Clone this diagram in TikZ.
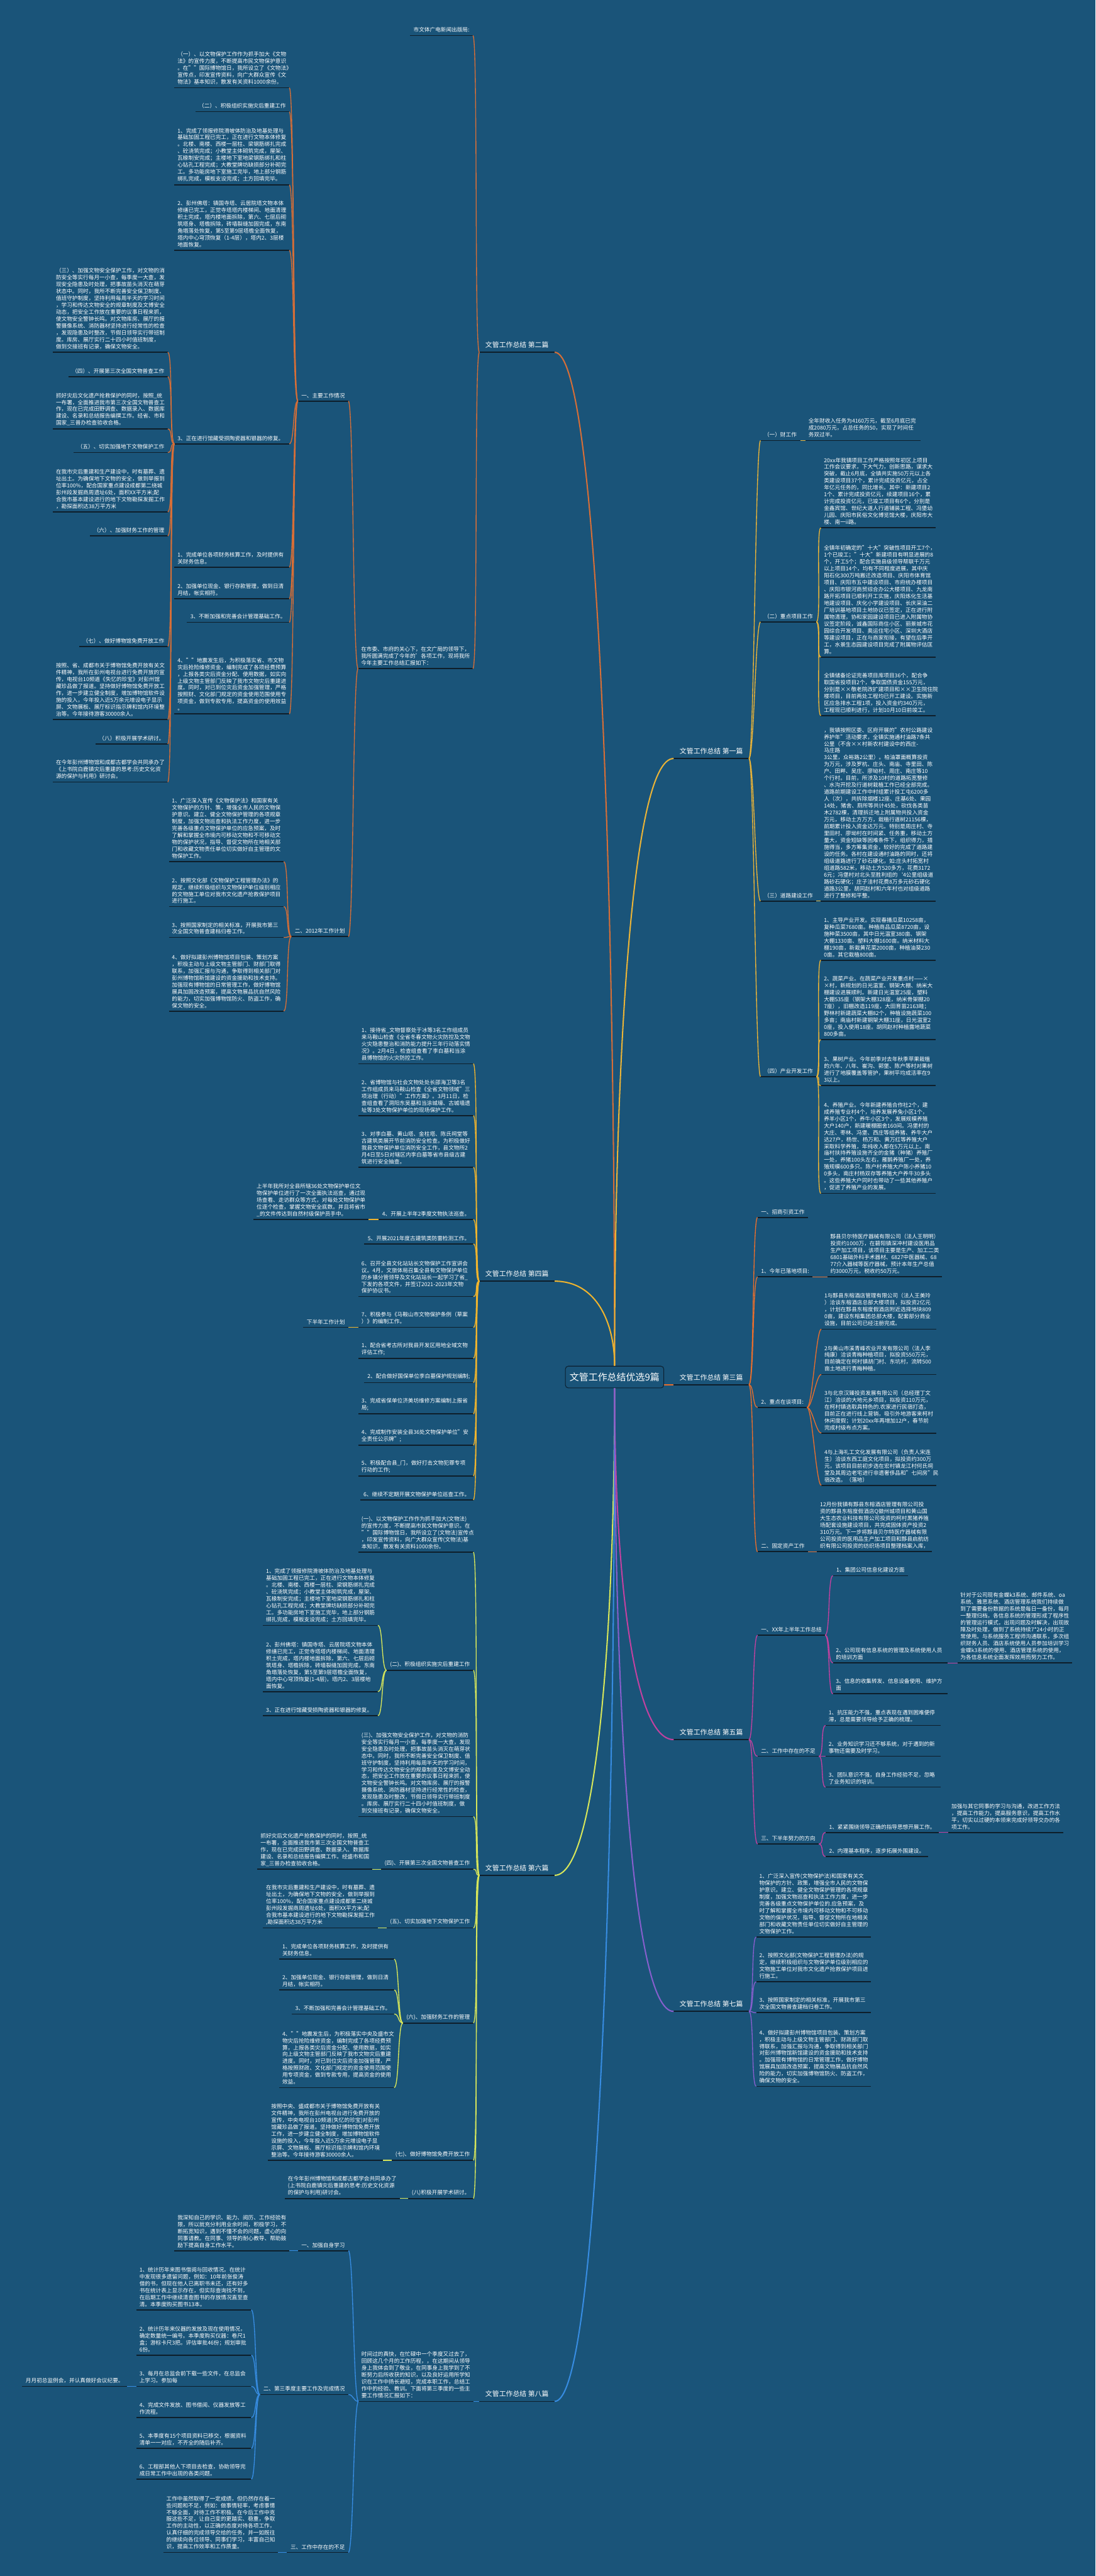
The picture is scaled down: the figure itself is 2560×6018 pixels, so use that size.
\documentclass[tikz,border=0pt]{standalone}
\usepackage{fontspec}
\setmainfont{Noto Sans CJK SC}
\definecolor{bgblue}{RGB}{26,84,121}
\definecolor{ulink}{RGB}{14,30,42}
\definecolor{rootedge}{RGB}{12,32,48}
\definecolor{orgII}{RGB}{214,110,55}
\definecolor{ylwIV}{RGB}{240,180,45}
\definecolor{grnVI}{RGB}{215,230,90}
\definecolor{bluVIII}{RGB}{55,140,225}
\definecolor{gldI}{RGB}{235,180,55}
\definecolor{orgIII}{RGB}{232,110,45}
\definecolor{magV}{RGB}{195,65,160}
\definecolor{purVII}{RGB}{135,95,205}
\begin{document}
\begin{tikzpicture}[x=1pt, y=-1pt,
  uline/.style={append after command={(\tikzlastnode.south west) edge[draw=ulink, line width=2.5pt] (\tikzlastnode.south east)}},
  txt/.style={text=white, font=\fontsize{12.7}{16.1}\selectfont, text width=254pt, align=left, inner xsep=7pt, inner ysep=7pt, uline},
  hd/.style={text=white, font=\fontsize{12.7}{16.1}\selectfont, inner xsep=8pt, inner ysep=7pt, uline},
  br/.style={text=white, font=\fontsize{16}{19}\selectfont, inner xsep=14pt, inner ysep=10pt, uline},
  root/.style={draw=rootedge, line width=1.5pt, rounded corners=7pt, fill=bgblue, text=white, font=\fontsize{22}{26}\selectfont, minimum width=230pt, minimum height=51pt},
  lkl/.style={line width=2pt, to path={.. controls +(-12,0) and +(12,0) .. (\tikztotarget)}},
  lkr/.style={line width=2pt, to path={.. controls +(12,0) and +(-12,0) .. (\tikztotarget)}},
  mainln/.style={line width=3pt}]
\useasboundingbox (0,0) rectangle (2560,6018);
\fill[bgblue] (0,0) rectangle (2560,6018);

\node[root] (root) at (1436,3217) {文管工作总结优选9篇};

\node[br, anchor=south east] (b2) at (1296,823) {文管工作总结 第二篇};
\node[br, anchor=south east] (b4) at (1296,2993) {文管工作总结 第四篇};
\node[br, anchor=south east] (b6) at (1296,4381) {文管工作总结 第六篇};
\node[br, anchor=south east] (b8) at (1296,5610) {文管工作总结 第八篇};
\node[br, anchor=south west] (b1) at (1574,1772) {文管工作总结 第一篇};
\node[br, anchor=south west] (b3) at (1574,3235) {文管工作总结 第三篇};
\node[br, anchor=south west] (b5) at (1574,4064) {文管工作总结 第五篇};
\node[br, anchor=south west] (b7) at (1574,4699) {文管工作总结 第七篇};

\node[hd, anchor=south east] (b2a) at (1105,83) {市文体广电新闻出版局:};
\node[txt, anchor=south east] (b2b) at (1105,1562) {在市委、市府的关心下，在文广局的领导下，\\我所圆满完成了今年的'各项工作，现将我所\\今年主要工作总结汇报如下：};
\node[hd, anchor=south east] (b2c) at (814,937) {一、主要工作情况};
\node[hd, anchor=south east] (b2d) at (814,2188) {二、2012年工作计划};

\node[txt, anchor=south east] (c1) at (676,205) {（一）、以文物保护工作作为抓手加大《文物\\法》的宣传力度，不断提高市民文物保护意识\\。在""国际博物馆日，我所设立了《文物法》\\宣传点，印发宣传资料，向广大群众宣传《文\\物法》基本知识，散发有关资料1000余份。};
\node[hd, anchor=south east] (c2) at (676,261) {（二）、积极组织实施灾后重建工作};
\node[txt, anchor=south east] (c3) at (676,432) {1、完成了领报修院滑坡体防治及地基处理与\\基础加固工程已完工，正在进行文物本体修复\\。北楼、南楼、西楼一层柱、梁钢筋绑扎完成\\、砼浇筑完成；小教堂主体砌筑完成，屋架、\\瓦椽制安完成；主楼地下室地梁钢筋绑扎和柱\\心钻孔工程完成；大教堂牌坊缺损部分补砌完\\工。多功能房地下室施工完毕，地上部分钢筋\\绑扎完成，模板支设完成；土方回填完毕。};
\node[txt, anchor=south east] (c4) at (676,585) {2、彭州佛塔：镇国寺塔、云居院塔文物本体\\修缮已完工，正觉寺塔塔内楼梯间、地面清理\\积土完成，塔内楼地面拆除，第六、七层后砌\\筑塔身、塔檐拆除，砖墙裂缝加固完成，东南\\角塌落处恢复，第5至第9层塔檐全面恢复，\\塔内中心穹顶恢复（1-4层），塔内2、3层楼\\地面恢复。};
\node[txt, anchor=south east] (c5) at (676,1037) {3、正在进行馆藏受损陶瓷器和银器的修复。};
\node[txt, anchor=south east] (c6) at (676,1325) {1、完成单位各项财务核算工作，及时提供有\\关财务信息。};
\node[txt, anchor=south east] (c7) at (676,1399) {2、加强单位现金、银行存款管理，做到日清\\月结，帐实相符。};
\node[hd, anchor=south east] (c8) at (676,1454) {3、不断加强和完善会计管理基础工作。};
\node[txt, anchor=south east] (c9) at (676,1668) {4、""地震发生后，为积极落实省、市文物\\灾后抢险维修资金，编制完成了各项经费预算\\，上报各类灾后资金分配、使用数据，如实向\\上级文物主管部门反映了我市文物灾后重建进\\度。同时，对已到位灾后资金加强管理，严格\\按照财、文化部门规定的资金使用范围使用专\\项资金，做到专款专用，提高资金的使用效益\\。};

\node[txt, anchor=south east] (d1) at (392,823) {（三）、加强文物安全保护工作，对文物的消\\防安全等实行每月一小查，每季度一大查，发\\现安全隐患及时处理，把事故苗头消灭在萌芽\\状态中。同时，我所不断完善安全保卫制度、\\值班守护制度，坚持利用每周半天的学习时间\\，学习和传达文物安全的规章制度及文博安全\\动态，把安全工作放在重要的议事日程来抓，\\使文物安全警钟长鸣。对文物库房、展厅的报\\警摄像系统、消防器材坚持进行经常性的检查\\，发现隐患及时整改，节假日领导实行带班制\\度。库房、展厅实行二十四小时值班制度，\\做到交接班有记录，确保文物安全。};
\node[hd, anchor=south east] (d2) at (392,880) {（四）、开展第三次全国文物普查工作};
\node[txt, anchor=south east] (d3) at (392,1002) {抓好灾后文化遗产抢救保护的同时，按照\_统\\一布署，全面推进我市第三次全国文物普查工\\作，现在已完成田野调查、数据录入、数据库\\建设、名录和总结报告编撰工作。经省、市和\\国家\_三普办检查验收合格。};
\node[hd, anchor=south east] (d4) at (392,1057) {（五）、切实加强地下文物保护工作};
\node[txt, anchor=south east] (d5) at (392,1196) {在我市灾后重建和生产建设中，时有墓葬、遗\\址出土。为确保地下文物的安全，做到举报到\\位率100\%，配合国家重点建设成都第二绕城\\彭州段发掘商周遗址6处，面积XX平方米;配\\合我市基本建设进行的地下文物勘探发掘工作\\，勘探面积达38万平方米};
\node[hd, anchor=south east] (d6) at (392,1252) {（六）、加强财务工作的管理};
\node[hd, anchor=south east] (d7) at (392,1510) {（七）、做好博物馆免费开放工作};
\node[txt, anchor=south east] (d8) at (392,1681) {按照、省、成都市关于博物馆免费开放有关文\\件精神，我所在彭州电视台进行免费开放的宣\\传，电视台10频道《失忆的珍宝》对彭州馆\\藏珍品做了报道。坚持做好博物馆免费开放工\\作，进一步建立健全制度，增加博物馆软件设\\施的投入，今年投入近5万余元增设电子显示\\屏、文物展板、展厅标识指示牌和馆内环境整\\治等。今年接待游客30000余人。};
\node[hd, anchor=south east] (d9) at (392,1738) {（八）积极开展学术研讨。};
\node[txt, anchor=south east] (d10) at (392,1827) {在今年彭州博物馆和成都古都学会共同承办了\\《上书院白鹿镇灾后重建的思考:历史文化资\\源的保护与利用》研讨会。};

\node[txt, anchor=south east] (e1) at (663,2013) {1、广泛深入宣传《文物保护法》和国家有关\\文物保护的方针、策，增强全市人民的文物保\\护意识。建立、健全文物保护管理的各项规章\\制度，加强文物巡查和执法工作力度，进一步\\完善各级重点文物保护单位的应急预案，及时\\了解和掌握全市境内可移动文物和不可移动文\\物的保护状况，指导、督促文物所在地相关部\\门和收藏文物责任单位切实做好自主管理的文\\物保护工作。};
\node[txt, anchor=south east] (e2) at (663,2118) {2、按照文化部《文物保护工程管理办法》的\\规定，继续积极组织与文物保护单位级别相应\\的文物施工单位对我市文化遗产抢救保护项目\\进行施工。};
\node[txt, anchor=south east] (e3) at (663,2190) {3、按照国家制定的相关标准，开展我市第三\\次全国文物普查建档归卷工作。};
\node[txt, anchor=south east] (e4) at (663,2362) {4、做好拟建彭州博物馆项目包装、策划方案\\，积极主动与上级文物主管部门、财部门取得\\联系，加强汇报与沟通，争取得到相关部门对\\彭州博物馆新馆建设的资金援助和技术支持。\\加强现有博物馆的日常管理工作，做好博物馆\\展具加固改造预案，提高文物展品抗自然风险\\的能力，切实加强博物馆防火、防盗工作，确\\保文物的安全。};

\node[txt, anchor=south east] (f1) at (1106,2485) {1、接待省\_文物督察处于冰等3名工作组成员\\来马鞍山检查《全省冬春文物火灾防控及文物\\火灾隐患整治和消防能力提升三年行动落实情\\况》。2月4日，检查组查看了李白墓和当涂\\县博物馆的火灾防控工作。};
\node[txt, anchor=south east] (f2) at (1106,2606) {2、省博物馆与社会文物处处长邵海卫等3名\\工作组成员来马鞍山检查《全省文物领域"三\\项治理（行动）"工作方案》。3月11日，检\\查组查看了洞阳东吴墓和当涂城壕、古城墙遗\\址等3处文物保护单位的现场保护工作。};
\node[txt, anchor=south east] (f3) at (1106,2727) {3、对李白墓、黄山塔、金柱塔、陈氏祠堂等\\古建筑类展开节前消防安全检查。为积极做好\\我县文物保护单位消防安全工作，县文物所2\\月4日至5日对辖区内李白墓等省市县级古建\\筑进行安全抽查。};
\node[hd, anchor=south east] (f4) at (1106,2849) {4、开展上半年2季度文物执法巡查。};
\node[txt, anchor=south east] (f4a) at (861,2849) {上半年我所对全县所辖36处文物保护单位文\\物保护单位进行了一次全面执法巡查，通过现\\场查看、走访群众等方式，对每处文物保护单\\位逐个检查，掌握文物安全底数。并且将省市\\\_的文件传达到自然村级保护员手中。};
\node[hd, anchor=south east] (f5) at (1106,2906) {5、开展2021年度古建筑类防雷检测工作。};
\node[txt, anchor=south east] (f6) at (1106,3029) {6、召开全县文化站站长文物保护工作宣讲会\\议。4月，文旅体局召集全县有文物保护单位\\的乡镇分管领导及文化站站长一起学习了省\_\\下发的各项文件，并签订2021-2023年文物\\保护协议书。};
\node[txt, anchor=south east] (f7) at (1106,3101) {7、积极参与《马鞍山市文物保护条例（草案\\）》的编制工作。};
\node[hd, anchor=south east] (f7a) at (814,3101) {下半年工作计划};
\node[txt, anchor=south east] (f8) at (1106,3173) {1、配合省考古所对我县开发区用地全域文物\\评估工作;};
\node[hd, anchor=south east] (f9) at (1106,3230) {2、配合做好国保单位李白墓保护规划编制;};
\node[txt, anchor=south east] (f10) at (1106,3303) {3、完成省保单位济美坊维修方案编制上报省\\局;};
\node[txt, anchor=south east] (f11) at (1106,3376) {4、完成制作安装全县36处文物保护单位"安\\全责任公示牌";};
\node[txt, anchor=south east] (f12) at (1106,3448) {5、积极配合县\_门，做好打击文物犯罪专项\\行动的工作;};
\node[hd, anchor=south east] (f13) at (1106,3504) {6、继续不定期开展文物保护单位巡查工作。};

\node[txt, anchor=south east] (g1) at (1106,3626) {(一)、以文物保护工作作为抓手加大(文物法)\\的宣传力度，不断提高市民文物保护意识。在\\""国际博物馆日，我所设立了(文物法)宣传点\\，印发宣传资料，向广大群众宣传(文物法)基\\本知识，散发有关资料1000余份。};
\node[hd, anchor=south east] (g2) at (1106,3902) {(二)、积极组织实施灾后重建工作};
\node[txt, anchor=south east] (g2a) at (883,3797) {1、完成了领报修院滑坡体防治及地基处理与\\基础加固工程已完工，正在进行文物本体修复\\。北楼、南楼、西楼一层柱、梁钢筋绑扎完成\\、砼浇筑完成；小教堂主体砌筑完成，屋架、\\瓦椽制安完成；主楼地下室地梁钢筋绑扎和柱\\心钻孔工程完成；大教堂牌坊缺损部分补砌完\\工。多功能房地下室施工完毕，地上部分钢筋\\绑扎完成，模板支设完成；土方回填完毕。};
\node[txt, anchor=south east] (g2b) at (883,3952) {2、彭州佛塔：镇国寺塔、云居院塔文物本体\\修缮已完工，正觉寺塔塔内楼梯间、地面清理\\积土完成，塔内楼地面拆除，第六、七层后砌\\筑塔身、塔檐拆除，砖墙裂缝加固完成，东南\\角塌落处恢复，第5至第9层塔檐全面恢复，\\塔内中心穹顶恢复(1-4层)，塔内2、3层楼地\\面恢复。};
\node[txt, anchor=south east] (g2c) at (883,4008) {3、正在进行馆藏受损陶瓷器和银器的修复。};
\node[txt, anchor=south east] (g3) at (1106,4244) {(三)、加强文物安全保护工作，对文物的消防\\安全等实行每月一小查，每季度一大查，发现\\安全隐患及时处理，把事故苗头消灭在萌芽状\\态中。同时，我所不断完善安全保卫制度、值\\班守护制度，坚持利用每周半天的学习时间，\\学习和传达文物安全的规章制度及文博安全动\\态，把安全工作放在重要的议事日程来抓，使\\文物安全警钟长鸣。对文物库房、展厅的报警\\摄像系统、消防器材坚持进行经常性的检查，\\发现隐患及时整改，节假日领导实行带班制度\\。库房、展厅实行二十四小时值班制度，做\\到交接班有记录，确保文物安全。};
\node[hd, anchor=south east] (g4) at (1106,4367) {(四)、开展第三次全国文物普查工作};
\node[txt, anchor=south east] (g4a) at (870,4367) {抓好灾后文化遗产抢救保护的同时，按照\_统\\一布署，全面推进我市第三次全国文物普查工\\作，现在已完成田野调查、数据录入、数据库\\建设、名录和总结报告编撰工作。经盛市和国\\家\_三普办检查验收合格。};
\node[hd, anchor=south east] (g5) at (1106,4504) {(五)、切实加强地下文物保护工作};
\node[txt, anchor=south east] (g5a) at (883,4504) {在我市灾后重建和生产建设中，时有墓葬、遗\\址出土，为确保地下文物的安全，做到举报到\\位率100\%，配合国家重点建设成都第二绕城\\彭州段发掘商周遗址6处，面积XX平方米;配\\合我市基本建设进行的地下文物勘探发掘工作\\,勘探面积达38万平方米};
\node[hd, anchor=south east] (g6) at (1106,4726) {(六)、加强财务工作的管理};
\node[txt, anchor=south east] (g6a) at (921,4577) {1、完成单位各项财务核算工作，及时提供有\\关财务信息。};
\node[txt, anchor=south east] (g6b) at (921,4649) {2、加强单位现金、银行存款管理，做到日清\\月结，帐实相符。};
\node[hd, anchor=south east] (g6c) at (921,4705) {3、不断加强和完善会计管理基础工作。};
\node[txt, anchor=south east] (g6d) at (921,4877) {4、""地震发生后，为积极落实中央及盛市文\\物灾后抢险维修资金，编制完成了各项经费预\\算，上报各类灾后资金分配、使用数据，如实\\向上级文物主管部门反映了我市文物灾后重建\\进度。同时，对已到位灾后资金加强管理，严\\格按照财政、文化部门规定的资金使用范围使\\用专项资金，做到专款专用，提高资金的使用\\效益。};
\node[hd, anchor=south east] (g7) at (1106,5047) {(七)、做好博物馆免费开放工作};
\node[txt, anchor=south east] (g7a) at (895,5047) {按照中央、盛成都市关于博物馆免费开放有关\\文件精神，我所在彭州电视台进行免费开放的\\宣传，中央电视台10频道(失忆的珍宝)对彭州\\馆藏珍品做了报道。坚持做好博物馆免费开放\\工作，进一步建立健全制度，增加博物馆软件\\设施的投入，今年投入近5万余元增设电子显\\示屏、文物展板、展厅标识指示牌和馆内环境\\整治等。今年接待游客30000余人。};
\node[hd, anchor=south east] (g8) at (1106,5136) {(八)积极开展学术研讨。};
\node[txt, anchor=south east] (g8a) at (934,5136) {在今年彭州博物馆和成都古都学会共同承办了\\(上书院白鹿镇灾后重建的思考:历史文化资源\\的保护与利用)研讨会。};

\node[txt, anchor=south east] (h1) at (1106,5610) {时间过的真快，在忙碌中一个季度又过去了，\\回顾这几个月的工作历程，，在这期间从领导\\身上我体会到了敬业，在同事身上我学到了不\\断努力后所收获的知识，以及良好运用所学知\\识在工作中扬长避短，完成本职工作，总结工\\作中的经验、教训。下面将第三季度的一些主\\要工作情况汇报如下：};
\node[hd, anchor=south east] (h1a) at (814,5258) {一、加强自身学习};
\node[txt, anchor=south east] (h1a1) at (676,5258) {我深知自己的学识、能力、阅历、工作经验有\\限，所以就充分利用业余时间，积极学习，不\\断拓宽知识，遇到不懂不会的问题，虚心的向\\同事请教。在同事、领导的耐心教导、帮助鼓\\励下提高自身工作水平。};
\node[hd, anchor=south east] (h1b) at (814,5594) {二、第三季度主要工作及完成情况};
\node[txt, anchor=south east] (i1) at (587,5396) {1、统计历年来图书借阅与回收情况。在统计\\中发现很多遗留问题，例如：10年前张俊涛\\借的书，但现在他人已离职书未还，还有好多\\书在统计表上显示存在，但实际查询找不到，\\在后期工作中继续清查图书的存放情况直至查\\清。本季度购买图书13本。};
\node[txt, anchor=south east] (i2) at (587,5502) {2、统计历年来仪器的发放及现在使用情况，\\确定数量统一编号。本季度购买仪器：卷尺1\\盒；游标卡尺3把。评估审批46份；规划审批\\6份。};
\node[txt, anchor=south east] (i3) at (587,5575) {3、每月在总监会前下载一些文件，在总监会\\上学习。参加每};
\node[hd, anchor=south east] (i3a) at (297,5575) {月月初总监例会，并认真做好会议纪要。};
\node[txt, anchor=south east] (i4) at (587,5648) {4、完成文件发放、图书借阅、仪器发放等工\\作流程。};
\node[txt, anchor=south east] (i5) at (587,5720) {5、本季度有15个项目资料已移交，根据资料\\清单一一对应，不齐全的随后补齐。};
\node[txt, anchor=south east] (i6) at (587,5792) {6、工程部其他人下项目去检查，协助领导完\\成日常工作中出现的各类问题。};
\node[hd, anchor=south east] (h1c) at (814,5963) {三、工作中存在的不足};
\node[txt, anchor=south east] (h1c1) at (650,5963) {工作中虽然取得了一定成绩，但仍然存在着一\\些问题和不足，例如：做事情轻率，考虑事情\\不够全面，对待工作不积极。在今后工作中克\\服这些不足，让自己变的更踏实、稳重，争取\\工作的主动性，以正确的态度对待各项工作，\\认真仔细的完成领导交给的任务，并一如既往\\的继续向各位领导、同事们学习，丰富自己知\\识，提高工作效率和工作质量。};

\node[hd, anchor=south west] (j1) at (1777,1029) {（一）财工作};
\node[txt, anchor=south west] (j1a) at (1882,1029) {全年财收入任务为4160万元，截至6月底已完\\成2080万元，占总任务的50，实现了时间任\\务双过半。};
\node[hd, anchor=south west] (j2) at (1777,1453) {（二）重点项目工作};
\node[txt, anchor=south west] (j2a) at (1918,1233) {20xx年我镇项目工作严格按照年初区上项目\\工作会议要求，下大气力，创新思路，谋求大\\突破，截止6月底，全镇共实施50万元以上各\\类建设项目37个，累计完成投资亿元，占全\\年亿元任务的，同比增长。其中：新建项目2\\1个、累计完成投资亿元，续建项目16个，累\\计完成投资亿元，已竣工项目有6个，分别是\\金鑫宾馆、世纪大道人行道铺装工程、冯堡幼\\儿园、庆阳市民俗文化博览馆大楼，庆阳市大\\楼、南一ii路。};
\node[txt, anchor=south west] (j2b) at (1918,1535) {全镇年初确定的"十大"突破性项目开工7个，\\1个已竣工；"十大"新建项目有明显进展的8\\个，开工5个；配合实施县级领导帮联千万元\\以上项目14个，均有不同程度进展，其中庆\\阳石化300万吨搬迁改造项目、庆阳市体育馆\\项目、庆阳市五中建设项目、市府统办楼项目\\、庆阳市银河商贸综合办公大楼项目、九龙南\\路开拓项目已顺利开工实施，庆阳炼化生活基\\地建设项目、庆化小学建设项目、长庆采油二\\厂培训基地项目土地协议已签定，正在进行附\\属物清理，协和家园建设项目已进入附属物协\\议签定阶段，诚鑫国际商住小区、丽景城市花\\园综合开发项目、奥运住宅小区、深圳大酒店\\等建设项目，正在与商家衔接，有望在后季开\\工，水景生态园建设项目完成了附属物评估匡\\算。};
\node[txt, anchor=south west] (j2c) at (1918,1672) {全镇储备论证完善项目库项目36个，配合争\\取国省投项目2个，争取国债资金155万元，\\分别是××敬老院改扩建项目和××卫生院住院\\楼项目，目前两处工程均已开工建设。实施新\\区应急排水工程1项，投入资金约340万元，\\工程现已顺利进行，计划10月10日前竣工。};
\node[hd, anchor=south west] (j3) at (1777,2105) {（三）道路建设工作};
\node[txt, anchor=south west] (j3a) at (1918,2105) {，我镇按照区委、区府开展的"农村公路建设\\养护年"活动要求，全镇实施通村油路7条共\\公里（不含××村新农村建设中的西庄-马庄路\\3公里，众裕路2公里）。柏油罩面概算投资\\为万元，涉及罗杭、庄头、南庙、寺里田、陈\\户、田畔、吴庄、廖坳村、周庄、南庄等10\\个行村。目前，所涉及10村的道路拓宽整修\\、水沟开挖及行道树栽植工作已经全部完成。\\道路前期建设工作中村组累计投工屯6200多\\人（次），共拆除烟楼12座、庄基6处、果园\\14处，猪舍、厕所等共计45处，砍伐各类苗\\木2782棵，清理拆迁地上附属物共投入资金\\万元，移动土方万方，栽植行道树21156棵，\\前期累计投入资金达万元。特别是周庄村、寺\\里田村、廖坳村在时间紧、任务重，移动土方\\量大，资金短缺等困难条件下，组织得力，措\\施得当，多方筹集资金，较好的完成了道路建\\设的任务。各村在建设通村油路的同时，还将\\组级道路进行了砂石硬化，如:庄头村拓宽村\\组道路582米，移动土方520多方，花费3172\\6元；冯堡村对北头至胜利组的`4公里组级道\\路砂石硬化；庄子洼村花费8万多元砂石硬化\\道路3公里，胡同赵村和六年村也对组级道路\\进行了整修和平整。};
\node[hd, anchor=south west] (j4) at (1777,2515) {（四）产业开发工作};
\node[txt, anchor=south west] (j4a) at (1918,2243) {1、主导产业开发。实现春播瓜菜10258亩，\\复种瓜菜7680亩。种植商品瓜菜8720亩，设\\施种菜3500亩，其中日光温室380亩、钢架\\大棚1330亩、塑料大棚1600亩。纳米材料大\\棚190亩，新栽黄花菜2000亩，种植油葵230\\0亩。其它栽植800亩。};
\node[txt, anchor=south west] (j4b) at (1918,2429) {2、蔬菜产业。在蔬菜产业开发重点村——×\\×村，新规划的日光温室、钢架大棚、纳米大\\棚建设进展顺利。新建日光温室25座，塑料\\大棚535座（钢架大棚328座，纳米骨架棚20\\7座），旧棚改造119座，大田育苗2163畦；\\野林村新建蔬菜大棚82个，种植设施蔬菜100\\多亩；南庙村新建钢架大棚31座，日光温室2\\0座，投入使用18座。胡同赵村种植露地蔬菜\\800多亩。};
\node[txt, anchor=south west] (j4c) at (1918,2536) {3、果树产业。今年前季对去年秋季苹果栽植\\的六年、八年、崔沟、郭堡、陈户等村对果树\\进行了地膜覆盖等管护，果树平均成活率在9\\3以上。};
\node[txt, anchor=south west] (j4d) at (1918,2788) {4、养殖产业。今年新建养殖合作社2个，建\\成养殖专业村4个，培养发展养兔小区1个，\\养羊小区1个，养牛小区3个，发展规模养殖\\大户140户，新建暖棚圈舍160间。冯堡村的\\大庄、枣林、冯堡、西庄等组养猪、养牛大户\\达27户，杨世、杨万和、黄万红等养殖大户\\采取科学养殖，年纯收入都在5万元以上。南\\庙村扶持养殖设施齐全的金猪（种猪）养殖厂\\一处，养猪100头左右，雁鹅养殖厂一处，养\\殖规模600多只。陈户村养殖大户陈小养猪10\\0多头，南庄村杨双存等养殖大户养牛30多头\\。这些养殖大户同时也带动了一些其他养殖户\\，促进了养殖产业的发展。};

\node[hd, anchor=south west] (k1) at (1770,2844) {一、招商引资工作};
\node[hd, anchor=south west] (k2) at (1770,2983) {1、今年已落地项目:};
\node[txt, anchor=south west] (k2a) at (1933,2983) {黟县贝尔特医疗器械有限公司（法人王明明）\\投资约1000万，在碧阳镇深冲村建设医用品\\生产加工项目，该项目主要是生产、加工二类\\6801基础外科手术器材、6827中医器械、68\\77介入器械等医疗器械，预计本年生产总值\\约3000万元，税收约50万元。};
\node[hd, anchor=south west] (k3) at (1770,3288) {2、重点在谈项目:};
\node[txt, anchor=south west] (k3a) at (1919,3105) {1与黟县东榕酒店管理有限公司（法人王美玲\\）洽谈东榕酒店总部大楼项目，拟投资2亿元\\，计划在黟县东榕度假酒店附近选择地块809\\0亩，建设东榕集团总部大楼，配套部分商业\\设施，目前公司已经注册完成。};
\node[txt, anchor=south west] (k3b) at (1919,3211) {2与黄山市溪青峰农业开发有限公司（法人李\\纯康）洽谈青梅种植项目，拟投资550万元，\\目前确定在柯村镇胡门村、东坑村，流转500\\亩土地进行青梅种植。};
\node[txt, anchor=south west] (k3c) at (1919,3348) {3与北京汉臻投资发展有限公司（总经理丁文\\江）洽谈的大地元乡项目，拟投资110万元，\\在柯村镇选取具特色的.农家进行民宿打造，\\目前正在进行线上营销，吸引外地游客来柯村\\休闲度假；计划20xx年再增加12户，春节前\\完成村级布点方案。};
\node[txt, anchor=south west] (k3d) at (1919,3470) {4与上海礼工文化发展有限公司（负责人宋连\\生）洽谈东西工庭文化项目，拟投资约300万\\元，该项目目前初步选在宏村镇龙江村何氏祠\\堂及其周边老宅进行非遗奢侈品和"七间房"民\\宿改造。（落地）};
\node[hd, anchor=south west] (k4) at (1770,3625) {二、固定资产工作};
\node[txt, anchor=south west] (k4a) at (1909,3625) {12月份我镇有黟县东榕酒店管理有限公司投\\资的黟县东榕度假酒店Q徽州城项目和黄山国\\大生态农业科技有限公司投资的柯村黑猪养殖\\场配套设施建设项目，共完成固体资产投资2\\310万元。下一步将黟县贝尔特医疗器械有限\\公司投资的医用品生产加工项目和黟县启航纺\\织有限公司投资的纺织场项目整理档案入库，};

\node[hd, anchor=south west] (l1) at (1770,3820) {一、XX年上半年工作总结};
\node[hd, anchor=south west] (l1a) at (1946,3681) {1、集团公司信息化建设方面};
\node[txt, anchor=south west] (l1b) at (1946,3885) {2、公司现有信息系统的管理及系统使用人员\\的培训方面};
\node[txt, anchor=south west] (l1b1) at (2237,3885) {针对于公司现有金蝶k3系统、邮件系统、oa\\系统、雅思系统、酒店管理系统我们持续做\\到了需要备份数据的系统是每日一备份，每月\\一整理归档，各信息系统的管理形成了程序性\\的管理运行模式，出现问题及时解决，出现故\\障及时处理，做到了系统持续7*24小时的正\\常使用。与系统服务工程师沟通联系，多次组\\织财务人员、酒店系统使用人员参加培训学习\\金蝶k3系统的使用、酒店管理系统的使用，\\为各信息系统全面发挥效用而努力工作。};
\node[txt, anchor=south west] (l1c) at (1946,3957) {3、信息的收集转发、信息设备使用、维护方\\面};
\node[hd, anchor=south west] (l2) at (1770,4103) {二、工作中存在的不足};
\node[txt, anchor=south west] (l2a) at (1929,4031) {1、抗压能力不强，重点表现在遇到困难便停\\滞，总是需要领导给予正确的梳理。};
\node[txt, anchor=south west] (l2b) at (1929,4103) {2、业务知识学习还不够系统，对于遇到的新\\事物还需要及时学习。};
\node[txt, anchor=south west] (l2c) at (1929,4175) {3、团队意识不强，自身工作经验不足，忽略\\了业务知识的培训。};
\node[hd, anchor=south west] (l3) at (1770,4308) {三、下半年努力的方向};
\node[hd, anchor=south west] (l3a) at (1929,4281) {1、紧紧围绕领导正确的指导思想开展工作。};
\node[txt, anchor=south west] (l3a1) at (2216,4281) {加强与其它同事的学习与沟通，改进工作方法\\，提高工作能力，提高服务意识，提高工作水\\平，切实以过硬的本领来完成好领导交办的各\\项工作。};
\node[hd, anchor=south west] (l3b) at (1929,4337) {2、内理基本程序，逐步拓展外围建设。};

\node[txt, anchor=south west] (m1) at (1767,4525) {1、广泛深入宣传(文物保护法)和国家有关文\\物保护的方针、政策，增强全市人民的文物保\\护意识。建立、健全文物保护管理的各项规章\\制度，加强文物巡查和执法工作力度，进一步\\完善各级重点文物保护单位的.应急预案，及\\时了解和掌握全市境内可移动文物和不可移动\\文物的保护状况，指导、督促文物所在地相关\\部门和收藏文物责任单位切实做好自主管理的\\文物保护工作。};
\node[txt, anchor=south west] (m2) at (1767,4630) {2、按照文化部(文物保护工程管理办法)的规\\定，继续积极组织与文物保护单位级别相应的\\文物施工单位对我市文化遗产抢救保护项目进\\行施工。};
\node[txt, anchor=south west] (m3) at (1767,4702) {3、按照国家制定的相关标准，开展我市第三\\次全国文物普查建档归卷工作。};
\node[txt, anchor=south west] (m4) at (1767,4874) {4、做好拟建彭州博物馆项目包装、策划方案\\，积极主动与上级文物主管部门、财政部门取\\得联系，加强汇报与沟通，争取得到相关部门\\对彭州博物馆新馆建设的资金援助和技术支持\\。加强现有博物馆的日常管理工作，做好博物\\馆展具加固改造预案，提高文物展品抗自然风\\险的能力，切实加强博物馆防火、防盗工作，\\确保文物的安全。};

\draw[mainln, orgII] (b2.south east) .. controls +(98,0) and +(0,-1185) .. (root.north);
\draw[mainln, ylwIV] (b4.south east) .. controls +(98,0) and +(0,-100) .. (root.north);
\draw[mainln, gldI] (b1.south west) .. controls +(-98,0) and +(0,-710) .. (root.north);
\draw[mainln, grnVI] (b6.south east) .. controls +(98,0) and +(0,569) .. (root.south);
\draw[mainln, bluVIII] (b8.south east) .. controls +(98,0) and +(0,1184) .. (root.south);
\draw[mainln, magV] (b5.south west) .. controls +(-98,0) and +(0,411) .. (root.south);
\draw[mainln, purVII] (b7.south west) .. controls +(-98,0) and +(0,728) .. (root.south);
\draw[mainln, orgIII] (root.east |- b3.south west) -- (b3.south west);

\draw[lkl, orgII] (b2.south west) to (b2a.south east);
\draw[lkl, orgII] (b2.south west) to (b2b.south east);
\draw[lkl, orgII] (b2b.south west) to (b2c.south east);
\draw[lkl, orgII] (b2b.south west) to (b2d.south east);
\draw[lkl, orgII] (b2c.south west) to (c1.south east);
\draw[lkl, orgII] (b2c.south west) to (c2.south east);
\draw[lkl, orgII] (b2c.south west) to (c3.south east);
\draw[lkl, orgII] (b2c.south west) to (c4.south east);
\draw[lkl, orgII] (b2c.south west) to (c5.south east);
\draw[lkl, orgII] (b2c.south west) to (c6.south east);
\draw[lkl, orgII] (b2c.south west) to (c7.south east);
\draw[lkl, orgII] (b2c.south west) to (c8.south east);
\draw[lkl, orgII] (b2c.south west) to (c9.south east);
\draw[lkl, orgII] (c5.south west) to (d1.south east);
\draw[lkl, orgII] (c5.south west) to (d2.south east);
\draw[lkl, orgII] (c5.south west) to (d3.south east);
\draw[lkl, orgII] (c5.south west) to (d4.south east);
\draw[lkl, orgII] (c5.south west) to (d5.south east);
\draw[lkl, orgII] (c5.south west) to (d6.south east);
\draw[lkl, orgII] (c5.south west) to (d7.south east);
\draw[lkl, orgII] (c5.south west) to (d8.south east);
\draw[lkl, orgII] (c5.south west) to (d9.south east);
\draw[lkl, orgII] (c5.south west) to (d10.south east);
\draw[lkl, orgII] (b2d.south west) to (e1.south east);
\draw[lkl, orgII] (b2d.south west) to (e2.south east);
\draw[lkl, orgII] (b2d.south west) to (e3.south east);
\draw[lkl, orgII] (b2d.south west) to (e4.south east);

\draw[lkl, ylwIV] (b4.south west) to (f1.south east);
\draw[lkl, ylwIV] (b4.south west) to (f2.south east);
\draw[lkl, ylwIV] (b4.south west) to (f3.south east);
\draw[lkl, ylwIV] (b4.south west) to (f4.south east);
\draw[lkl, ylwIV] (b4.south west) to (f5.south east);
\draw[lkl, ylwIV] (b4.south west) to (f6.south east);
\draw[lkl, ylwIV] (b4.south west) to (f7.south east);
\draw[lkl, ylwIV] (b4.south west) to (f8.south east);
\draw[lkl, ylwIV] (b4.south west) to (f9.south east);
\draw[lkl, ylwIV] (b4.south west) to (f10.south east);
\draw[lkl, ylwIV] (b4.south west) to (f11.south east);
\draw[lkl, ylwIV] (b4.south west) to (f12.south east);
\draw[lkl, ylwIV] (b4.south west) to (f13.south east);
\draw[lkl, ylwIV] (f4.south west) to (f4a.south east);
\draw[lkl, ylwIV] (f7.south west) to (f7a.south east);

\draw[lkl, grnVI] (b6.south west) to (g1.south east);
\draw[lkl, grnVI] (b6.south west) to (g2.south east);
\draw[lkl, grnVI] (b6.south west) to (g3.south east);
\draw[lkl, grnVI] (b6.south west) to (g4.south east);
\draw[lkl, grnVI] (b6.south west) to (g5.south east);
\draw[lkl, grnVI] (b6.south west) to (g6.south east);
\draw[lkl, grnVI] (b6.south west) to (g7.south east);
\draw[lkl, grnVI] (b6.south west) to (g8.south east);
\draw[lkl, grnVI] (g2.south west) to (g2a.south east);
\draw[lkl, grnVI] (g2.south west) to (g2b.south east);
\draw[lkl, grnVI] (g2.south west) to (g2c.south east);
\draw[lkl, grnVI] (g4.south west) to (g4a.south east);
\draw[lkl, grnVI] (g5.south west) to (g5a.south east);
\draw[lkl, grnVI] (g6.south west) to (g6a.south east);
\draw[lkl, grnVI] (g6.south west) to (g6b.south east);
\draw[lkl, grnVI] (g6.south west) to (g6c.south east);
\draw[lkl, grnVI] (g6.south west) to (g6d.south east);
\draw[lkl, grnVI] (g7.south west) to (g7a.south east);
\draw[lkl, grnVI] (g8.south west) to (g8a.south east);

\draw[lkl, bluVIII] (b8.south west) to (h1.south east);
\draw[lkl, bluVIII] (h1.south west) to (h1a.south east);
\draw[lkl, bluVIII] (h1.south west) to (h1b.south east);
\draw[lkl, bluVIII] (h1.south west) to (h1c.south east);
\draw[lkl, bluVIII] (h1a.south west) to (h1a1.south east);
\draw[lkl, bluVIII] (h1b.south west) to (i1.south east);
\draw[lkl, bluVIII] (h1b.south west) to (i2.south east);
\draw[lkl, bluVIII] (h1b.south west) to (i3.south east);
\draw[lkl, bluVIII] (h1b.south west) to (i4.south east);
\draw[lkl, bluVIII] (h1b.south west) to (i5.south east);
\draw[lkl, bluVIII] (h1b.south west) to (i6.south east);
\draw[lkl, bluVIII] (i3.south west) to (i3a.south east);
\draw[lkl, bluVIII] (h1c.south west) to (h1c1.south east);

\draw[lkr, gldI] (b1.south east) to (j1.south west);
\draw[lkr, gldI] (b1.south east) to (j2.south west);
\draw[lkr, gldI] (b1.south east) to (j3.south west);
\draw[lkr, gldI] (b1.south east) to (j4.south west);
\draw[lkr, gldI] (j1.south east) to (j1a.south west);
\draw[lkr, gldI] (j2.south east) to (j2a.south west);
\draw[lkr, gldI] (j2.south east) to (j2b.south west);
\draw[lkr, gldI] (j2.south east) to (j2c.south west);
\draw[lkr, gldI] (j3.south east) to (j3a.south west);
\draw[lkr, gldI] (j4.south east) to (j4a.south west);
\draw[lkr, gldI] (j4.south east) to (j4b.south west);
\draw[lkr, gldI] (j4.south east) to (j4c.south west);
\draw[lkr, gldI] (j4.south east) to (j4d.south west);

\draw[lkr, orgIII] (b3.south east) to (k1.south west);
\draw[lkr, orgIII] (b3.south east) to (k2.south west);
\draw[lkr, orgIII] (b3.south east) to (k3.south west);
\draw[lkr, orgIII] (b3.south east) to (k4.south west);
\draw[lkr, orgIII] (k2.south east) to (k2a.south west);
\draw[lkr, orgIII] (k3.south east) to (k3a.south west);
\draw[lkr, orgIII] (k3.south east) to (k3b.south west);
\draw[lkr, orgIII] (k3.south east) to (k3c.south west);
\draw[lkr, orgIII] (k3.south east) to (k3d.south west);
\draw[lkr, orgIII] (k4.south east) to (k4a.south west);

\draw[lkr, magV] (b5.south east) to (l1.south west);
\draw[lkr, magV] (b5.south east) to (l2.south west);
\draw[lkr, magV] (b5.south east) to (l3.south west);
\draw[lkr, magV] (l1.south east) to (l1a.south west);
\draw[lkr, magV] (l1.south east) to (l1b.south west);
\draw[lkr, magV] (l1.south east) to (l1c.south west);
\draw[lkr, magV] (l1b.south east) to (l1b1.south west);
\draw[lkr, magV] (l2.south east) to (l2a.south west);
\draw[lkr, magV] (l2.south east) to (l2b.south west);
\draw[lkr, magV] (l2.south east) to (l2c.south west);
\draw[lkr, magV] (l3.south east) to (l3a.south west);
\draw[lkr, magV] (l3.south east) to (l3b.south west);
\draw[lkr, magV] (l3a.south east) to (l3a1.south west);

\draw[lkr, purVII] (b7.south east) to (m1.south west);
\draw[lkr, purVII] (b7.south east) to (m2.south west);
\draw[lkr, purVII] (b7.south east) to (m3.south west);
\draw[lkr, purVII] (b7.south east) to (m4.south west);
\end{tikzpicture}
\end{document}
